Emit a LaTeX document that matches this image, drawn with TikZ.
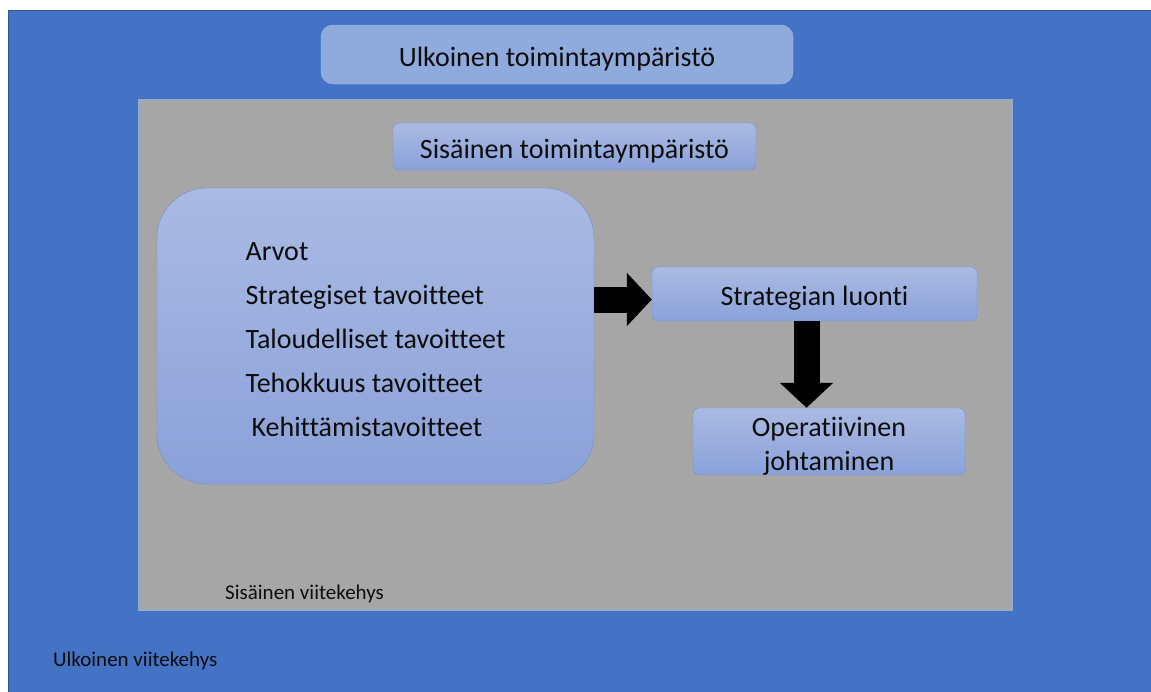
\documentclass[tikz,border=0pt]{standalone}
\usepackage{fontspec}
\setmainfont{Carlito}[Ligatures=NoCommon]
\usetikzlibrary{arrows.meta}
\definecolor{vkouter}{HTML}{4472C4}
\definecolor{vkouterline}{HTML}{2F5597}
\definecolor{vkgray}{HTML}{A6A6A6}
\definecolor{vktitle}{HTML}{8FAADC}
\definecolor{vktop}{HTML}{AABAE3}
\definecolor{vkbot}{HTML}{8AA1D9}
\definecolor{vkline}{HTML}{6F8FD2}
\definecolor{vktext}{HTML}{0D0D0D}
\newcommand\vkdown[1]{\rule{0pt}{#1}}
\tikzset{vkbox/.style={draw=vkline,rounded corners=6pt,top color=vktop,bottom color=vkbot,
                       text=vktext,inner sep=0pt,align=center,font=\fontsize{28}{34}\selectfont},
         vkarrow/.style={line width=26pt,-{Triangle[length=25pt,width=52pt]}},
         vklab/.style={anchor=west,text=vktext,inner sep=0pt,font=\fontsize{21}{25}\selectfont}}

\begin{document}
\begin{tikzpicture}[x=1pt,y=-1pt]
  \useasboundingbox (0,0) rectangle (1151,691);
  % frames
  \draw[vkouterline,fill=vkouter] (8,10) rectangle (1152,692);
  \draw[vktitle,fill=vkgray] (138,99) rectangle (1012,610);
  \node[vklab] (outerlab) at (53,661) {Ulkoinen viitekehys};
  \node[vklab] (innerlab) at (225,594) {Sisäinen viitekehys};
  % boxes
  \node[vkbox,draw=vktitle!90!white,fill=vktitle,top color=vktitle,bottom color=vktitle,
        rounded corners=12pt,minimum width=472pt,minimum height=59pt] (outenv) at (557,54.5)
        {\vkdown{28pt}Ulkoinen toimintaympäristö};
  \node[vkbox,minimum width=363pt,minimum height=47pt] (inenv) at (574.5,146.5)
        {\vkdown{28pt}Sisäinen toimintaympäristö};
  \node[vkbox,rounded corners=50pt,minimum width=437pt,minimum height=296pt,
        align=left,font=\fontsize{28}{44}\selectfont] (goals) at (375.5,336)
        {\vkdown{25pt}Arvot\\Strategiset tavoitteet\\Taloudelliset tavoitteet\\Tehokkuus tavoitteet\\
         \hspace*{6pt}Kehittämistavoitteet};
  \node[vkbox,minimum width=325pt,minimum height=54pt] (strat) at (814.5,294)
        {\vkdown{27pt}Strategian luonti};
  \node[vkbox,minimum width=272pt,minimum height=67pt] (oper) at (829,441.5)
        {\vkdown{28pt}Operatiivinen\\johtaminen};
  % arrows
  \coordinate (ra) at (0,299.5);
  \coordinate (da) at (806.5,0);
  \draw[vkarrow] (goals.east |- ra) -- (strat.west |- ra);
  \draw[vkarrow] (strat.south -| da) -- (oper.north -| da);
\end{tikzpicture}
\end{document}
